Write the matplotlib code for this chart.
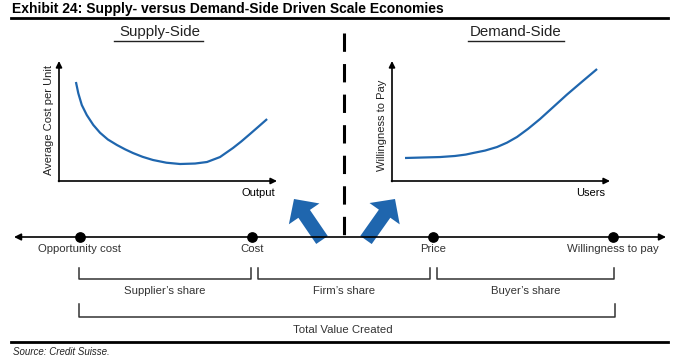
import matplotlib.pyplot as plt
from matplotlib.patches import FancyArrow

plt.rcParams['font.family'] = ['Liberation Sans', 'DejaVu Sans']

# Supply-side curve: average cost per unit vs output (0-10 scales)
supply_x = [0.78, 0.89, 1.05, 1.28, 1.58, 1.89, 2.25, 2.67, 3.05, 3.41, 3.85, 4.33, 4.95, 5.58,
            6.27, 6.82, 7.42, 8.02, 8.40, 8.80, 9.20, 9.59]
supply_y = [8.39, 7.43, 6.44, 5.59, 4.75, 4.09, 3.52, 3.05, 2.68, 2.37, 2.05, 1.78, 1.55, 1.44,
            1.48, 1.61, 2.03, 2.80, 3.35, 3.98, 4.62, 5.25]

# Demand-side curve: willingness to pay vs users (0-10 scales)
demand_x = [0.60, 1.40, 2.21, 2.90, 3.40, 3.73, 4.29, 4.84, 5.30, 5.76, 6.27, 6.82, 7.42, 8.06,
            8.76, 9.45]
demand_y = [1.95, 1.99, 2.03, 2.12, 2.24, 2.37, 2.58, 2.88, 3.25, 3.73, 4.42, 5.25, 6.25, 7.32,
            8.42, 9.49]

# Number line points
point_labels = ['Opportunity cost', 'Cost', 'Price', 'Willingness to pay']
point_pos = [80, 252, 433, 613]

# Share brackets
share_labels = ['Supplier\u2019s share', 'Firm\u2019s share', 'Buyer\u2019s share']
share_spans = [(79, 251), (258, 430), (437, 614)]
total_label = 'Total Value Created'
total_span = (79, 615)

W, H = 681, 363
fig = plt.figure(figsize=(W / 100, H / 100), dpi=100)
ax = fig.add_axes([0, 0, 1, 1])
ax.set_xlim(0, W)
ax.set_ylim(H, 0)
ax.axis('off')

blue = '#1f66ae'
grey = '#333333'

# title and rules
ax.text(12, 9, 'Exhibit 24: Supply- versus Demand-Side Driven Scale Economies',
        fontsize=10, fontweight='bold', va='center', ha='left')
ax.plot([11, 668], [17.5, 17.5], color='black', lw=2)
ax.plot([11, 668], [342, 342], color='black', lw=2)
ax.text(13, 352, 'Source: Credit Suisse.', fontsize=7, style='italic',
        va='center', ha='left', color='#222222')

# panel headings
for cx, txt, x0, x1 in [(160, 'Supply-Side', 114, 203), (516, 'Demand-Side', 468, 564)]:
    ax.text(cx, 32, txt, fontsize=10.8, ha='center', va='center', color='#222222')
    ax.plot([x0, x1], [40.5, 40.5], color='#222222', lw=1)

# dashed divider
ax.plot([344, 344], [33, 236], color='black', lw=2.2, dashes=(6, 4))

# mini chart axes with arrows
for x0, x1, ylab, xlab, ly in [(59, 277, 'Average Cost per Unit', 'Output', 120),
                               (392, 610, 'Willingness to Pay', 'Users', 125)]:
    ax.annotate('', xy=(x0, 61), xytext=(x0, 181.5),
                arrowprops=dict(arrowstyle='-|>', color='black', lw=1.2, mutation_scale=9,
                                shrinkA=0, shrinkB=0))
    ax.annotate('', xy=(x1, 181), xytext=(x0 - 0.5, 181),
                arrowprops=dict(arrowstyle='-|>', color='black', lw=1.2, mutation_scale=9,
                                shrinkA=0, shrinkB=0))
    ax.text(x0 - 10, ly, ylab, rotation=90, fontsize=8, ha='center', va='center', color='#222222')
    ax.text(x1 - 19, 193, xlab, fontsize=8, ha='center', va='center', color='black')

# curves in their own axes
def curve_axes(px0, px1, xs, ys):
    a = fig.add_axes([px0 / W, (H - 181) / H, (px1 - px0) / W, (181 - 63) / H])
    a.set_xlim(0, 10)
    a.set_ylim(0, 10)
    a.axis('off')
    a.patch.set_alpha(0)
    a.plot(xs, ys, color=blue, lw=1.6, solid_capstyle='butt', solid_joinstyle='round')

curve_axes(59, 276, supply_x, supply_y)
curve_axes(392, 609, demand_x, demand_y)

# blue arrows
for (sx, sy), (tx, ty) in [((322, 240), (294, 199)), ((366, 240), (395, 199))]:
    ax.add_patch(FancyArrow(sx, sy, tx - sx, ty - sy, width=14, head_width=37,
                            head_length=18, length_includes_head=True,
                            color=blue, lw=0, zorder=2))

# number line
ax.annotate('', xy=(14, 237), xytext=(666, 237),
            arrowprops=dict(arrowstyle='<|-|>', color='black', lw=1.2, mutation_scale=10,
                            shrinkA=0, shrinkB=0), zorder=3)
ax.scatter(point_pos, [237] * len(point_pos), s=45, color='black', zorder=4)
for p, lab in zip(point_pos, point_labels):
    ax.text(p, 249.5, lab, fontsize=8.2, ha='center', va='center', color=grey)

# brackets
def bracket(x0, x1, top, bottom):
    ax.plot([x0, x0, x1, x1], [top, bottom, bottom, top], color=grey, lw=1.1)

for (x0, x1), lab in zip(share_spans, share_labels):
    bracket(x0, x1, 268, 279)
    ax.text((x0 + x1) / 2, 291, lab, fontsize=8.2, ha='center', va='center', color=grey)
bracket(total_span[0], total_span[1], 304, 317)
ax.text(343, 330, total_label, fontsize=8.2, ha='center', va='center', color=grey)

fig.savefig('out.png', dpi=100)
